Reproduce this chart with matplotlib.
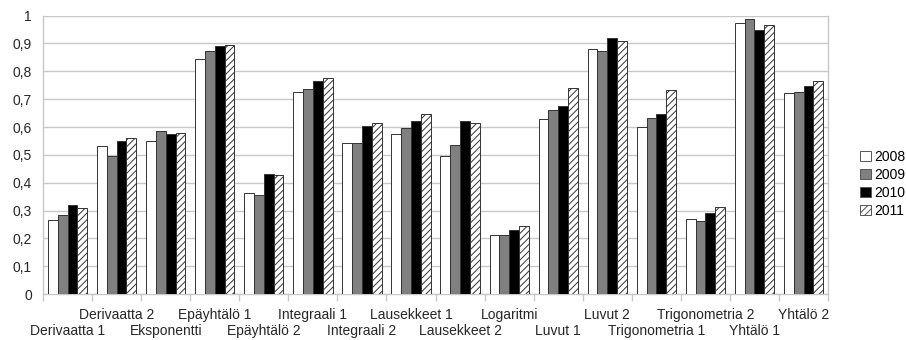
import numpy as np
import matplotlib
matplotlib.use("Agg")
import matplotlib.pyplot as plt
from matplotlib.patches import Patch

plt.rcParams["font.family"] = ["Liberation Sans", "DejaVu Sans"]
plt.rcParams["hatch.color"] = "#555555"
plt.rcParams["hatch.linewidth"] = 0.7

topics = ["Derivaatta 1", "Derivaatta 2", "Eksponentti", "Epäyhtälö 1", "Epäyhtälö 2",
          "Integraali 1", "Integraali 2", "Lausekkeet 1", "Lausekkeet 2", "Logaritmi",
          "Luvut 1", "Luvut 2", "Trigonometria 1", "Trigonometria 2", "Yhtälö 1", "Yhtälö 2"]
years = ["2008", "2009", "2010", "2011"]

y2008 = [0.265, 0.531, 0.549, 0.846, 0.362, 0.725, 0.542, 0.576, 0.496, 0.212,
         0.629, 0.880, 0.600, 0.269, 0.974, 0.722]
y2009 = [0.283, 0.496, 0.585, 0.874, 0.355, 0.737, 0.542, 0.596, 0.535, 0.212,
         0.661, 0.874, 0.632, 0.261, 0.988, 0.725]
y2010 = [0.321, 0.549, 0.576, 0.891, 0.433, 0.766, 0.605, 0.620, 0.620, 0.231,
         0.677, 0.921, 0.648, 0.292, 0.947, 0.749]
y2011 = [0.308, 0.561, 0.578, 0.894, 0.428, 0.776, 0.615, 0.646, 0.614, 0.243,
         0.740, 0.909, 0.733, 0.314, 0.967, 0.766]

series = [y2008, y2009, y2010, y2011]
faces = ["white", "#808080", "black", "white"]
hatches = [None, None, None, "/////"]
GRID = "#c8c8c8"
TEXT = "#262626"

fig = plt.figure(figsize=(9.06, 3.4), dpi=100)
ax = fig.add_axes([0.0475, 0.135, 0.8665, 0.819])

x = np.arange(len(topics))
w = 0.2
for i, (vals, fc, h) in enumerate(zip(series, faces, hatches)):
    ax.bar(x - 0.3 + i * w, vals, width=w, color=fc, hatch=h,
           edgecolor="#333333", linewidth=0.7, zorder=3)

ax.set_xlim(-0.5, len(topics) - 0.5)
ax.set_ylim(0, 1)
yt = np.arange(0, 1.01, 0.1)
ax.set_yticks(yt)
ax.set_yticklabels([f"{v:.1f}".replace(".", ",") if 0 < v < 0.99 else f"{v:.0f}"
                    for v in yt], fontsize=10, color=TEXT)
ax.yaxis.grid(True, color=GRID, linewidth=1, zorder=0)
ax.tick_params(axis="y", length=0, pad=8)

# category boundaries as ticks below the axis, names staggered over two rows
ax.set_xticks(np.arange(-0.5, len(topics), 1.0))
ax.set_xticklabels([])
ax.tick_params(axis="x", length=5, color=GRID, width=1)
trans = ax.get_xaxis_transform()
for i, name in enumerate(topics):
    yoff = -0.076 if i % 2 else -0.133
    ax.text(i, yoff, name, transform=trans, ha="center", va="center",
            fontsize=10, color=TEXT)

ax.spines["top"].set_visible(False)
for side in ("left", "right", "bottom"):
    ax.spines[side].set_color(GRID)
    ax.spines[side].set_linewidth(1)

handles = [Patch(facecolor=fc, edgecolor="#555555", hatch=h, linewidth=0.7)
           for fc, h in zip(faces, hatches)]
fig.legend(handles, years, loc="center left", bbox_to_anchor=(0.942, 0.459),
           frameon=False, fontsize=10, handlelength=0.75, handleheight=0.75,
           handletextpad=0.25, labelspacing=0.3, borderpad=0)

fig.savefig("out.png", dpi=100)
